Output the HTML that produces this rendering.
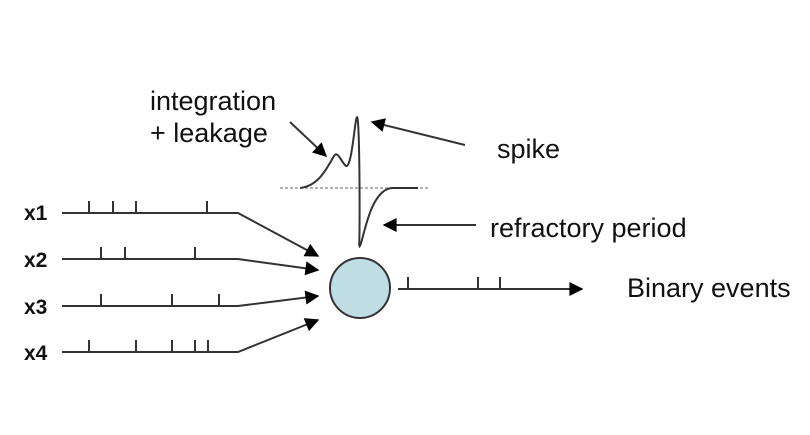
<!DOCTYPE html>
<html><head><style>body{margin:0;background:#fff}svg{display:block}</style></head><body>
<svg width="810" height="435" viewBox="0 0 810 435" xmlns="http://www.w3.org/2000/svg" font-family="Liberation Sans, sans-serif">
<defs><marker id="a" viewBox="0 0 10 10" refX="9" refY="5" markerWidth="8" markerHeight="7" orient="auto"><path d="M0,0L10,5L0,10z" fill="#000"/></marker></defs>
<g stroke="#333" stroke-width="2" fill="none">
<line x1="280" y1="188" x2="428" y2="188" stroke="#999" stroke-dasharray="3,2" stroke-width="1.5"/>
<path d="M300,188 C318,186 326,170 334,156 C338,150 341,162 346,166 C352,168 355,117 357,117 C360,117 360,247 359,247 C363,247 368,190 392,188 L418,188" stroke-width="2"/>
<path d="M62,213H238L318,256" marker-end="url(#a)"/>
<path d="M62,259H238L318,270" marker-end="url(#a)"/>
<path d="M62,306H238L318,296" marker-end="url(#a)"/>
<path d="M62,352H238L318,320" marker-end="url(#a)"/>
<path d="M89,213v-12M113,213v-12M136,213v-12M207,213v-12M101,259v-12M125,259v-12M195,259v-12M101,306v-12M172,306v-12M219,306v-12M89,352v-12M136,352v-12M172,352v-12M195,352v-12M208,352v-12M408,289v-12M478,289v-12M500,289v-12"/>
<line x1="398" y1="289" x2="582" y2="289" marker-end="url(#a)"/>
<line x1="290" y1="122" x2="326" y2="156" marker-end="url(#a)"/>
<line x1="465" y1="145" x2="372" y2="122" marker-end="url(#a)"/>
<line x1="476" y1="225" x2="384" y2="225" marker-end="url(#a)"/>
</g>
<circle cx="360" cy="288" r="30" fill="#bfdde3" stroke="#333" stroke-width="2"/>
<g font-size="27" fill="#111">
<text x="150" y="110">integration</text>
<text x="150" y="142">+ leakage</text>
<text x="497" y="158">spike</text>
<text x="490" y="237">refractory period</text>
<text x="627" y="297">Binary events</text>
</g>
<g font-size="21" font-weight="bold" fill="#111">
<text x="24" y="220">x1</text><text x="24" y="267">x2</text><text x="24" y="314">x3</text><text x="24" y="360">x4</text>
</g>
</svg>
</body></html>
